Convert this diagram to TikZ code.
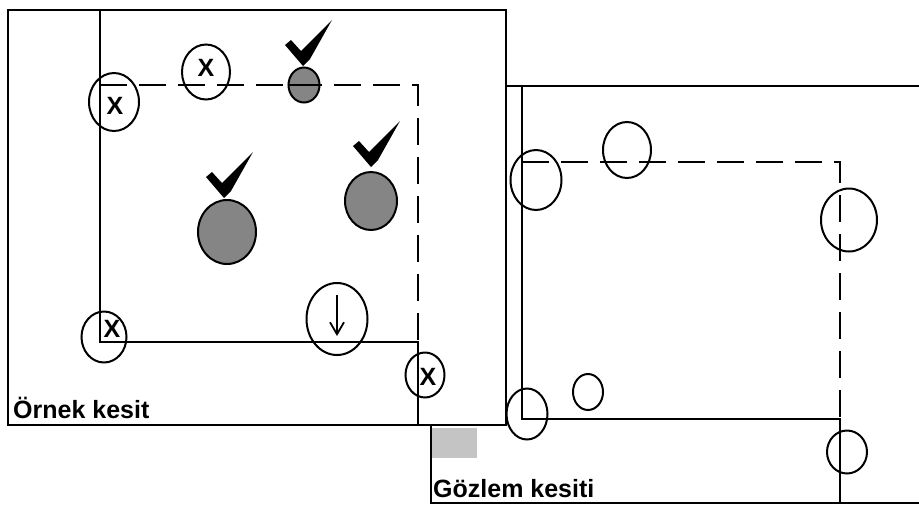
\documentclass[tikz,border=0pt]{standalone}
\usepackage{fontspec}
\setmainfont{Liberation Sans}
\usetikzlibrary{shapes.geometric,arrows.meta}
\definecolor{dotgray}{HTML}{858585}
\definecolor{patch}{HTML}{C4C4C4}
\tikzset{
  frame/.style={line width=2.8pt},
  wall/.style={line width=2.4pt},
  dashline/.style={line width=2.4pt, dash pattern=on 27pt off 12pt},
  ring/.style={draw, ellipse, line width=2pt, inner sep=0pt},
  dot/.style={ring, fill=dotgray},
  xmark/.style={font=\bfseries\fontsize{25}{28}\selectfont, inner sep=0pt},
  caption/.style={font=\bfseries\fontsize{25}{30}\selectfont, inner sep=0pt, anchor=base west},
  checkmk/.pic={\fill (0,0) -- (-18,-21) -- (-12,-26) -- (-2,-15) -- (29,-46) -- (7,-7) -- cycle;}
}
\begin{document}
\begin{tikzpicture}[x=1pt,y=-1pt]
\useasboundingbox (0,0) rectangle (919,507);
% right section (behind)
\coordinate (rtr) at (919,86);
\coordinate (rtl) at (431,86);
\coordinate (rbl) at (431,503);
\coordinate (rbr) at (919,503);
\draw[frame] (rtr) -- (rtl) -- (rbl) -- (rbr);
\coordinate (ri1) at (522,86);
\coordinate (ri2) at (522,419);
\coordinate (ri3) at (840,419);
\coordinate (ri4) at (840,503);
\draw[wall] (ri1) -- (ri2) -- (ri3) -- (ri4);
\coordinate (rd1) at (522,162);
\coordinate (rd2) at (840,162);
\draw[dashline] (rd1) -- (rd2) -- (ri3);
\node[ring, minimum width=51pt, minimum height=60pt] (r1) at (536,180) {};
\node[ring, minimum width=48pt, minimum height=56pt] (r2) at (627,150) {};
\node[ring, minimum width=56pt, minimum height=63pt] (r3) at (849,220) {};
\node[ring, minimum width=30pt, minimum height=36pt] (r4) at (588,392) {};
\node[ring, minimum width=41pt, minimum height=51pt] (r5) at (527,414) {};
\node[ring, minimum width=40pt, minimum height=43pt] (r6) at (847,452) {};
\node[caption] (gl) at (433,497) {Gözlem kesiti};
\fill[patch] (432,428) rectangle (477,458);
% left section (front)
\draw[frame, fill=white] (8,10) rectangle (506,425);
\coordinate (li1) at (100,10);
\coordinate (li2) at (100,342);
\coordinate (li3) at (418,342);
\coordinate (li4) at (418,425);
\draw[wall] (li1) -- (li2) -- (li3) -- (li4);
\coordinate (ld1) at (100,85);
\coordinate (ld2) at (418,85);
\draw[dashline] (ld1) -- (ld2) -- (li3);
\node[ring, minimum width=50pt, minimum height=58pt] (ca) at (114,102) {};
\node[xmark] (xa) at (115,106) {X};
\node[ring, minimum width=48pt, minimum height=55pt] (cb) at (206,72) {};
\node[xmark] (xb) at (206,68) {X};
\node[dot, minimum width=31pt, minimum height=35pt] (cc) at (304,85) {};
\draw[line width=2pt] (cc.west) -- (cc.east);
\node[dot, minimum width=58pt, minimum height=64pt] (cd) at (227,232) {};
\node[dot, minimum width=52pt, minimum height=58pt] (ce) at (371,201) {};
\node[ring, minimum width=45pt, minimum height=51pt] (cf) at (104,337) {};
\node[xmark] (xf) at (112,329) {X};
\node[ring, minimum width=61pt, minimum height=72pt] (cg) at (337,319) {};
\coordinate (ga) at (337,295);
\coordinate (gb) at (337,336);
\draw[line width=1.8pt, -{Straight Barb[length=12pt,width=14pt]}] (ga) -- (gb);
\node[ring, minimum width=39pt, minimum height=45pt] (ch) at (425,375) {};
\node[xmark] (xh) at (428,377) {X};
\pic at (303,66) {checkmk};
\pic at (224,198) {checkmk};
\pic at (371,167) {checkmk};
\node[caption] (ol) at (13,418) {Örnek kesit};
\end{tikzpicture}
\end{document}
